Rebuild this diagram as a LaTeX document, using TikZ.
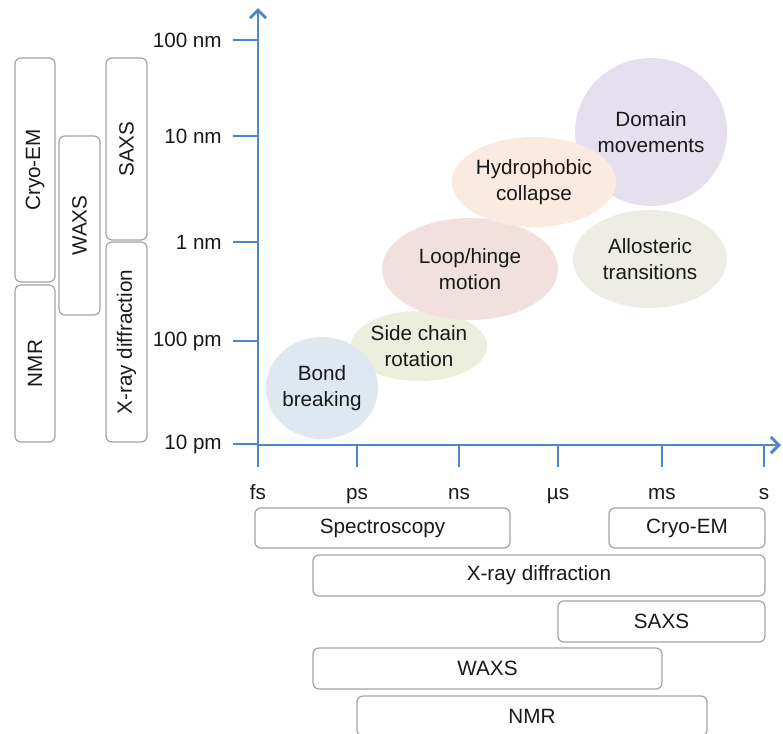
\documentclass[tikz,border=0pt]{standalone}
\usepackage{fontspec}
\setmainfont{Liberation Sans}
\usetikzlibrary{shapes.geometric, arrows.meta}
\usepackage{xcolor}

\definecolor{axisblue}{HTML}{4F86C6}
\definecolor{boxgray}{HTML}{A3A3A3}
\definecolor{bondfill}{HTML}{DFE7F0}
\definecolor{sidefill}{HTML}{EDEFDD}
\definecolor{loopfill}{HTML}{F1E0DD}
\definecolor{hydrofill}{HTML}{FBEADF}
\definecolor{domainfill}{HTML}{E6E0EE}
\definecolor{allofill}{HTML}{EDEDE5}
\newcommand{\labelfont}{\fontsize{15.5}{19}\selectfont}

\begin{document}
\begin{tikzpicture}[x=0.75pt, y=-0.75pt,
  bubble/.style={ellipse, inner sep=0pt, align=center, text=black!90, font=\labelfont},
  method/.style={draw=boxgray, rounded corners=4.5pt, line width=0.9pt, inner sep=0pt, text=black!90, font=\labelfont},
  axis/.style={draw=axisblue, line width=2.2pt},
  ticklabel/.style={text=black!90, font=\labelfont, inner sep=0pt}]
  \useasboundingbox (0,0) rectangle (783,733);

  \node[method, rotate=90, minimum width=168pt, minimum height=30pt] (Cryo-EM V) at (35,170) {Cryo-EM};
  \node[method, rotate=90, minimum width=117.75pt, minimum height=30pt] (NMR V) at (35,363.5) {NMR};
  \node[method, rotate=90, minimum width=134.25pt, minimum height=30.75pt] (WAXS V) at (79.5,225.5) {WAXS};
  \node[method, rotate=90, minimum width=136.5pt, minimum height=30.75pt] (SAXS V) at (126.5,149) {SAXS};
  \node[method, rotate=90, minimum width=150pt, minimum height=30.75pt] (X-ray V) at (126.5,342) {X-ray diffraction};

  \node[method, minimum width=191.25pt, minimum height=30pt] (Spectroscopy) at (382.5,528) {Spectroscopy};
  \node[method, minimum width=117pt, minimum height=30pt] (Cryo-EM H) at (687,528) {Cryo-EM};
  \node[method, minimum width=339pt, minimum height=30.75pt] (X-ray H) at (539,575.5) {X-ray diffraction};
  \node[method, minimum width=155.25pt, minimum height=30.75pt] (SAXS H) at (661.5,621.5) {SAXS};
  \node[method, minimum width=261.75pt, minimum height=30.75pt] (WAXS H) at (487.5,668.5) {WAXS};
  \node[method, minimum width=262.5pt, minimum height=30pt] (NMR H) at (532,716) {NMR};

  \node[bubble, fill=sidefill, minimum width=93pt, minimum height=52.5pt] (SideChain) at (419,346) {Side chain\\rotation};
  \node[bubble, fill=bondfill, minimum width=75pt, minimum height=76.5pt] (BondBreaking) at (322,388) {Bond\\breaking};
  \node[bubble, fill=loopfill, minimum width=132pt, minimum height=76.5pt] (LoopHinge) at (470,269) {Loop/hinge\\motion};
  \node[bubble, fill=domainfill, minimum width=114pt, minimum height=111pt] (Domain) at (651,132) {Domain\\movements};
  \node[bubble, fill=hydrofill, minimum width=114pt, minimum height=67.5pt] (Hydrophobic) at (534,182) {Hydrophobic\\collapse};
  \node[bubble, fill=allofill, minimum width=115.5pt, minimum height=73.5pt] (Allosteric) at (650,259) {Allosteric\\transitions};

  \coordinate (Origin) at (258,445);
  \coordinate (YTop) at (258,8);
  \coordinate (XEnd) at (781,445);
  \draw[axis, -{Straight Barb[length=6pt, width=12pt]}] (258,467) -- (YTop);
  \draw[axis, -{Straight Barb[length=6pt, width=12pt]}] (Origin) -- (XEnd);

  \foreach \y/\lab in {40/100 nm, 136/10 nm, 242/1 nm, 341/100 pm, 444/10 pm}{
    \draw[axis] (233,\y) -- (258,\y);
    \node[ticklabel, anchor=east] at (222,\y) {\lab};
  }
  \foreach \x/\lab in {258/fs, 357/ps, 459/ns, 558/µs, 662/ms, 764/s}{
    \draw[axis] (\x,445) -- (\x,467);
    \node[ticklabel, anchor=base] at (\x,499) {\lab};
  }
\end{tikzpicture}
\end{document}
